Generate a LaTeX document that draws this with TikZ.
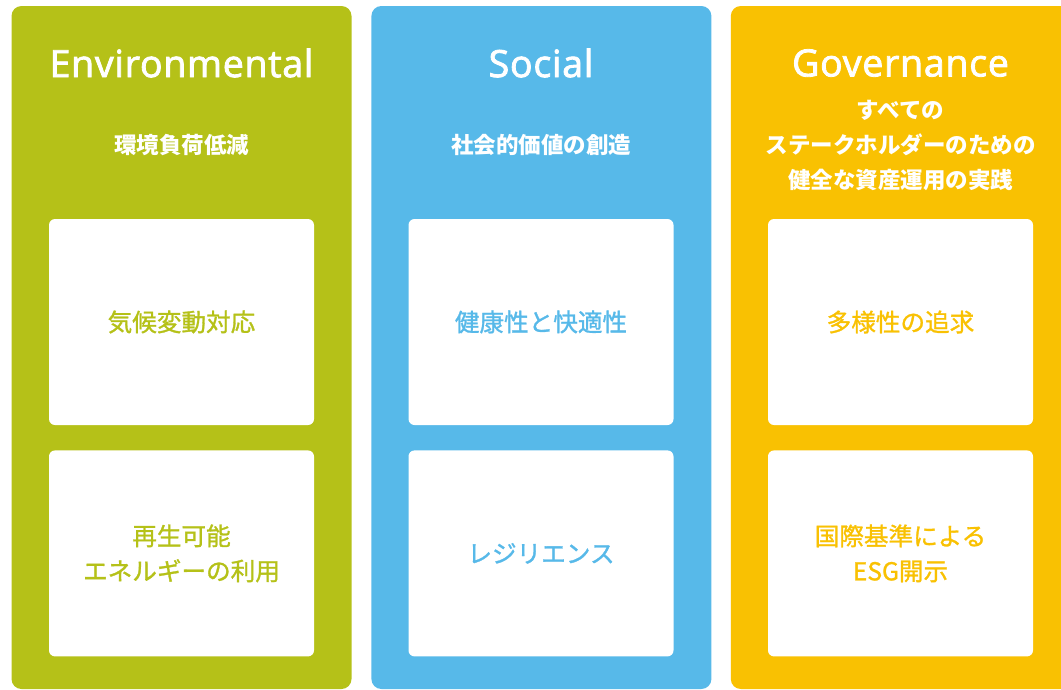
\documentclass[tikz,border=0pt]{standalone}
\usepackage{fontspec}
\setmainfont{Open Sans}
\newfontfamily\headfont{Open Sans}[FakeBold=2.2, LetterSpace=2]
\newfontfamily\jpfont{Noto Sans CJK JP}
\newfontfamily\jpmedium{Noto Sans CJK JP}[FakeBold=1.2]
\usetikzlibrary{positioning}

\definecolor{envgreen}{HTML}{B5C118}
\definecolor{socblue}{HTML}{57B9E9}
\definecolor{govyellow}{HTML}{F9C102}

\tikzstyle{pillar} = [rectangle,
rounded corners=10pt,
minimum width=340pt,
minimum height=683pt,
inner sep=0pt]
\tikzstyle{card} = [rectangle,
rounded corners=6pt,
minimum width=265pt,
minimum height=206pt,
fill=white,
align=center,
font=\jpmedium\fontsize{24.6}{35}\selectfont]
\tikzstyle{heading} = [text=white, font=\headfont\fontsize{37.5}{44}\selectfont]
\tikzstyle{subheading} = [text=white, align=center,
font=\jpfont\bfseries\fontsize{22.5}{35}\selectfont]

\begin{document}
\begin{tikzpicture}[x=1pt, y=-1pt]

\clip (0,0) rectangle (1061,689);

\node (env) [pillar, fill=envgreen] at (181.5,347.5) {};
\node (soc) [pillar, fill=socblue, right=19.5pt of env] {};
\node (gov) [pillar, fill=govyellow, right=19pt of soc] {};

\node (envTitle) [heading] at (181.5,63) {Environmental};
\node (socTitle) [heading] at (541,63) {Social};
\node (govTitle) [heading] at (900.5,63) {Governance};

\node (envSub) [subheading] at (181.5,145) {環境負荷低減};
\node (socSub) [subheading] at (541,145) {社会的価値の創造};
\node (govSub) [subheading] at (900.5,145) {すべての\\ステークホルダーのための\\健全な資産運用の実践};

\node (envCard1) [card, text=envgreen] at (181.5,322) {気候変動対応};
\node (envCard2) [card, text=envgreen, below=25pt of envCard1] {再生可能\\エネルギーの利用};

\node (socCard1) [card, text=socblue] at (541,322) {健康性と快適性};
\node (socCard2) [card, text=socblue, below=25pt of socCard1] {レジリエンス};

\node (govCard1) [card, text=govyellow] at (900.5,322) {多様性の追求};
\node (govCard2) [card, text=govyellow, below=25pt of govCard1] {国際基準による\\ESG開示};

\end{tikzpicture}
\end{document}
